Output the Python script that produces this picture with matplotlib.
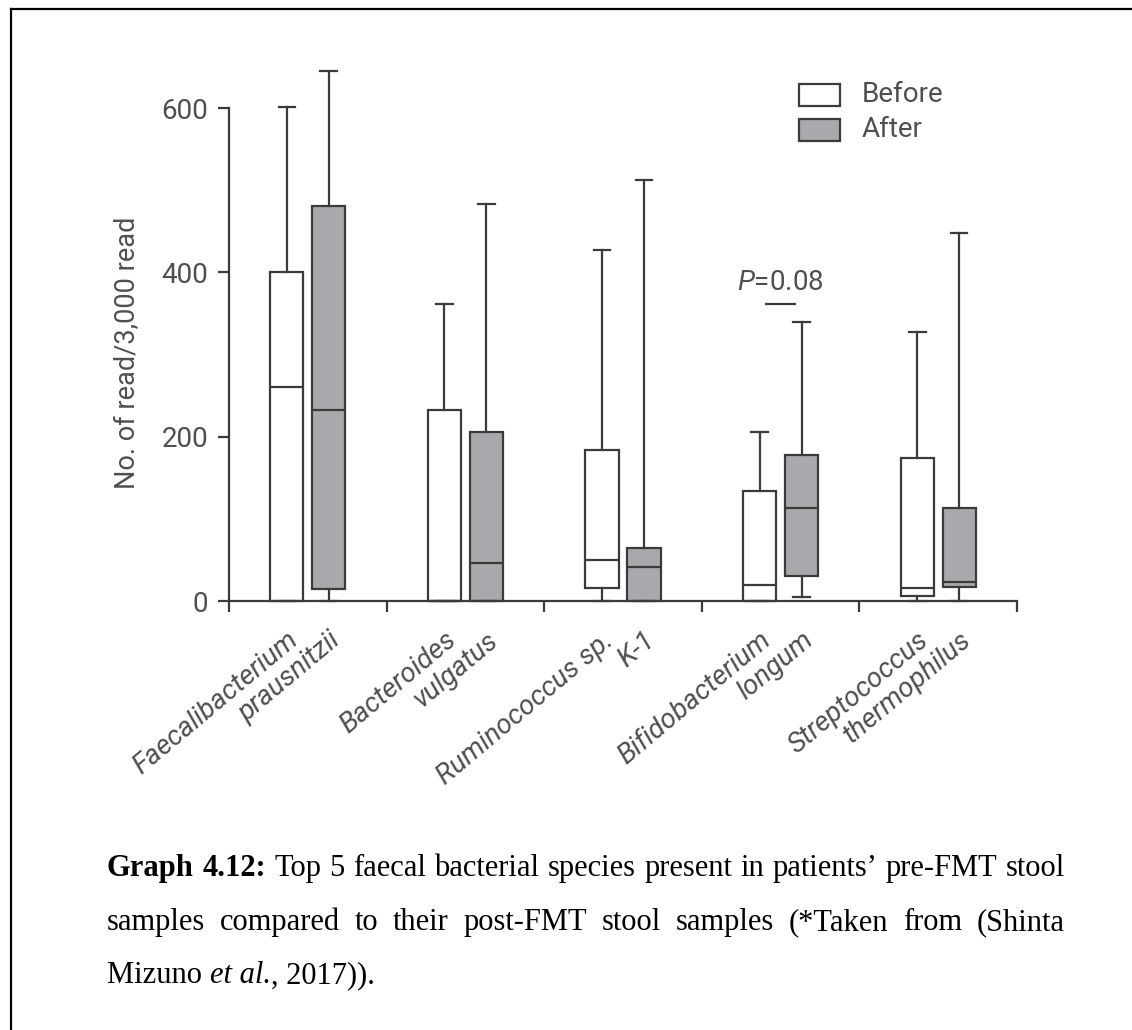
import numpy as np
import matplotlib
matplotlib.use("Agg")
import matplotlib.pyplot as plt
from matplotlib.patches import Rectangle
from matplotlib.lines import Line2D

W, H = 1132, 1030

# first / second word of each species name, one per box
species_before = ["Faecalibacterium", "Bacteroides", "Ruminococcus sp.",
                  "Bifidobacterium", "Streptococcus"]
species_after = ["prausnitzii", "vulgatus", "K-1", "longum", "thermophilus"]

# box statistics (reads per 3,000)
before_whislo = [0, 0, 0, 0, 0]
before_q1 = [0, 0, 16, 0, 6]
before_med = [261, 0, 50, 20, 16]
before_q3 = [400, 232, 184, 134, 174]
before_whishi = [601, 361, 427, 206, 328]

after_whislo = [0, 0, 0, 5, 0]
after_q1 = [15, 0, 0, 30, 17]
after_med = [233, 46, 41, 113, 23]
after_q3 = [481, 206, 65, 178, 113]
after_whishi = [645, 483, 512, 340, 448]

y_ticks = [0, 200, 400, 600]
legend_labels = ["Before", "After"]
p_label = "$P$=0.08"
p_group = 3
p_bar_y = 361
p_text_y = 378

caption_lines = [
    [("Graph", "bold"), ("4.12:", "bold"), ("Top", ""), ("5", ""), ("faecal", ""),
     ("bacterial", ""), ("species", ""), ("present", ""), ("in", ""),
     ("patients\u2019", ""), ("pre-FMT", ""), ("stool", "")],
    [("samples", ""), ("compared", ""), ("to", ""), ("their", ""), ("post-FMT", ""),
     ("stool", ""), ("samples", ""), ("(*Taken", ""), ("from", ""), ("(Shinta", "")],
]
caption_last = [("Mizuno ", ""), ("et al.", "italic"), (", 2017)).", "")]

line_c = "#3b3b3b"
gray_fill = "#a8a9ac"
text_c = "#4f4f4f"
sans = ["Roboto", "DejaVu Sans"]

plt.rcParams["font.family"] = sans
plt.rcParams["font.weight"] = "normal"
plt.rcParams["mathtext.fontset"] = "custom"
plt.rcParams["mathtext.rm"] = "Roboto"
plt.rcParams["mathtext.it"] = "Roboto:italic"


def fx(x):
    return x / W


def fy(y):
    return 1 - y / H


fig = plt.figure(figsize=(W / 100, H / 100), dpi=100)
ax = fig.add_axes([fx(229), fy(601), (1017 - 229) / W, (601 - 26) / H])
ax.set_xlim(0, 5)
ax.set_ylim(0, 700)

centers = np.arange(5) + 0.5
pos_before = centers - 0.133
pos_after = centers + 0.133


def make_stats(lo, q1, med, q3, hi):
    return [dict(whislo=a, q1=b, med=c, q3=d, whishi=e, fliers=[])
            for a, b, c, d, e in zip(lo, q1, med, q3, hi)]


lw = 1.6
for stats, pos, fc in [
    (make_stats(before_whislo, before_q1, before_med, before_q3, before_whishi), pos_before, "white"),
    (make_stats(after_whislo, after_q1, after_med, after_q3, after_whishi), pos_after, gray_fill),
]:
    parts = ax.bxp(stats, positions=pos, widths=0.21, patch_artist=True,
                   showfliers=False, manage_ticks=False,
                   boxprops=dict(facecolor=fc, edgecolor=line_c, linewidth=lw),
                   medianprops=dict(color=line_c, linewidth=lw),
                   whiskerprops=dict(color=line_c, linewidth=lw),
                   capprops=dict(color=line_c, linewidth=lw))
    for key in parts:
        for art in parts[key]:
            art.set_clip_on(False)

# spines and ticks
for s in ["top", "right"]:
    ax.spines[s].set_visible(False)
ax.spines["left"].set_bounds(0, 600)
for s in ["left", "bottom"]:
    ax.spines[s].set_linewidth(1.6)
    ax.spines[s].set_color(line_c)

ax.set_yticks(y_ticks)
ax.tick_params(axis="y", direction="out", length=8, width=1.6, color=line_c,
               labelsize=20, labelcolor=text_c, pad=7)
ax.set_xticks(np.arange(6))
ax.set_xticklabels([])
ax.tick_params(axis="x", which="major", direction="out", length=8, width=1.6,
               color=line_c)

box_pos = np.ravel(np.column_stack([pos_before, pos_after]))
box_names = [n for pair in zip(species_before, species_after) for n in pair]
ax.set_xticks(box_pos, box_names, minor=True)
ax.tick_params(axis="x", which="minor", length=0, pad=19, labelsize=20,
               labelcolor=text_c)
for lbl in ax.get_xticklabels(minor=True):
    lbl.set_rotation(40)
    lbl.set_ha("right")
    lbl.set_va("top")
    lbl.set_rotation_mode("anchor")
    lbl.set_style("italic")

# P value annotation
pc = centers[p_group]
ax.plot([pc - 0.1, pc + 0.1], [p_bar_y, p_bar_y], color=line_c, lw=lw,
        solid_capstyle="butt")
ax.text(pc, p_text_y, p_label, ha="center", va="baseline", fontsize=20,
        color=text_c)

# y label
fig.text(fx(128), fy(353), "No. of read/3,000 read", rotation=90, ha="center",
         va="center", fontsize=19.5, color=text_c)

# legend
for i, (lab, fc) in enumerate(zip(legend_labels, ["white", gray_fill])):
    top = 84 + i * 35
    fig.add_artist(Rectangle((fx(799), fy(top + 22)), 41 / W, 22 / H,
                             facecolor=fc, edgecolor=line_c, lw=lw,
                             transform=fig.transFigure))
    fig.text(fx(862), fy(top + 11), lab, ha="left", va="center", fontsize=20,
             color=text_c)

# caption, justified
serif = ["Liberation Serif", "DejaVu Serif"]
cap_size = 22
renderer = fig.canvas.get_renderer()
left_px, right_px = 107, 1065
baselines = [876, 930, 983]


def word_text(x, y, s, style):
    kw = dict(fontsize=cap_size, family=serif, color="black", ha="left",
              va="baseline", fontweight="bold" if style == "bold" else "normal",
              style="italic" if style == "italic" else "normal")
    return fig.text(fx(x), fy(y), s, **kw)


for words, base in zip(caption_lines, baselines):
    texts = [word_text(0, base, w, st) for w, st in words]
    widths = [t.get_window_extent(renderer).width for t in texts]
    gap = (right_px - left_px - sum(widths)) / (len(words) - 1)
    x = left_px
    for t, w in zip(texts, widths):
        t.set_x(fx(x))
        x += w + gap

x = left_px
for w, st in caption_last:
    t = word_text(x, baselines[2], w, st)
    x += t.get_window_extent(renderer).width

# page frame (left and top edges)
fig.add_artist(Line2D([fx(11), fx(11)], [0, fy(9)], color="black", lw=1.6))
fig.add_artist(Line2D([fx(11), 1], [fy(9), fy(9)], color="black", lw=1.6))

fig.savefig("out.png", dpi=100, facecolor="white")
